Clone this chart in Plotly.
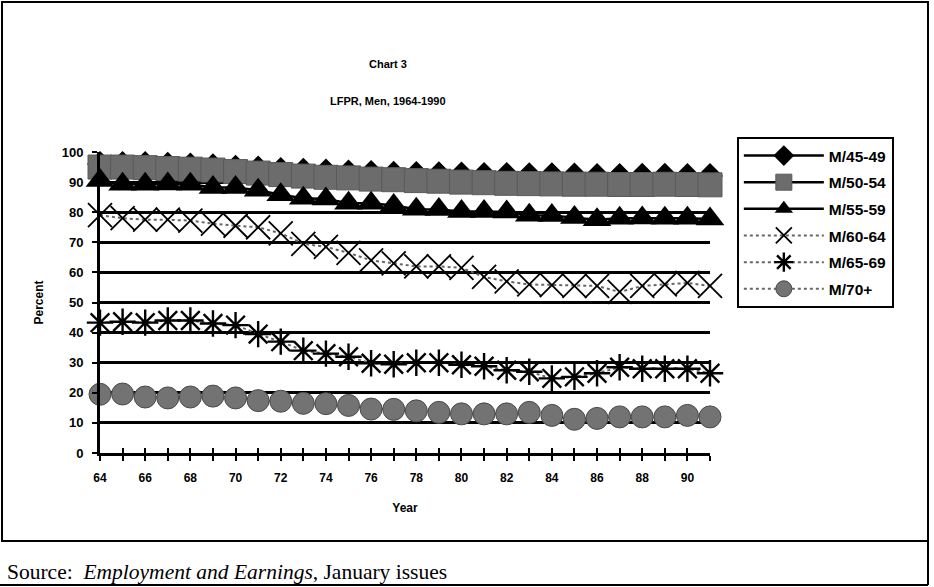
import plotly.graph_objects as go

# Survey years (19xx), one point per January issue
years = list(range(64, 92))

# Labour-force participation rate of men, percent, by age group
m45_49 = [96.0, 96.0, 96.0, 95.8, 95.5, 95.3, 94.8, 94.5, 94.0, 93.8, 93.5, 93.2, 93.0, 92.8,
          92.7, 92.6, 92.5, 92.4, 92.4, 92.3, 92.3, 92.2, 92.0, 92.0, 92.1, 92.1, 92.0, 92.0]
m50_54 = [95.0, 95.0, 94.8, 94.5, 94.3, 94.0, 93.5, 93.0, 92.5, 92.0, 91.6, 91.4, 91.0, 90.8,
          90.5, 90.3, 90.0, 89.8, 89.6, 89.5, 89.4, 89.3, 89.3, 89.2, 89.2, 89.3, 89.2, 89.1]
m55_59 = [90.5, 89.3, 89.3, 89.4, 89.3, 88.2, 88.2, 87.3, 85.8, 84.6, 84.4, 83.0, 83.0, 82.2,
          81.0, 80.9, 80.2, 80.2, 80.1, 79.0, 78.9, 78.2, 77.5, 78.0, 78.1, 78.0, 78.0, 77.7]
m60_64 = [79.0, 78.0, 77.5, 77.5, 77.2, 76.2, 75.5, 75.0, 73.0, 69.5, 68.5, 66.5, 64.0, 63.0,
          62.0, 62.0, 61.5, 58.5, 57.0, 56.0, 55.8, 55.5, 55.5, 53.5, 55.5, 56.0, 56.5, 55.5]
m65_69 = [43.3, 43.6, 43.3, 44.0, 44.0, 43.0, 42.5, 39.5, 37.0, 34.0, 33.0, 32.0, 29.8, 29.5,
          30.0, 30.0, 29.3, 28.8, 27.5, 27.0, 24.8, 25.3, 26.5, 28.5, 28.0, 28.0, 28.0, 26.5]
m70_up = [19.5, 19.6, 18.6, 18.3, 18.6, 18.9, 18.3, 17.4, 17.2, 16.5, 16.4, 15.8, 14.6, 14.5,
          14.0, 13.5, 13.0, 13.0, 13.0, 13.5, 12.5, 11.2, 11.5, 12.0, 12.0, 12.0, 12.5, 12.0]

series_names = ["M/45-49", "M/50-54", "M/55-59", "M/60-64", "M/65-69", "M/70+"]
series_values = [m45_49, m50_54, m55_59, m60_64, m65_69, m70_up]

y_ticks = list(range(0, 101, 10))
x_tick_text = [str(y) if y % 2 == 0 and y <= 90 else "" for y in years]

BOLD = "Liberation Sans"

styles = [
    dict(line=dict(color="black", width=2.5),
         marker=dict(symbol="diamond", size=20, color="black")),
    dict(line=dict(color="black", width=2.5),
         marker=dict(symbol="square", size=24, color="#6c6c6c",
                     line=dict(color="#5a5a5a", width=1))),
    dict(line=dict(color="black", width=2.5),
         marker=dict(symbol="triangle-up", size=25, color="black")),
    dict(line=dict(color="#666666", width=2, dash="dot"),
         marker=dict(symbol="x-thin", size=24, color="black",
                     line=dict(color="black", width=1.8))),
    dict(line=dict(color="#666666", width=2, dash="dot"),
         marker=dict(symbol="asterisk", size=22, color="black",
                     line=dict(color="black", width=2.4))),
    dict(line=dict(color="#666666", width=2, dash="dot"),
         marker=dict(symbol="circle", size=22, color="#737373",
                     line=dict(color="#4a4a4a", width=1))),
]

fig = go.Figure()
for i, (name, vals, st) in enumerate(zip(series_names, series_values, styles)):
    fig.add_trace(go.Scatter(
        x=years, y=vals, name=name, mode="lines+markers",
        line=st["line"], marker=st["marker"], cliponaxis=False,
        legendgroup=f"g{i}",
    ))

# companion axis that draws the upper half of the crossing x ticks
fig.add_trace(go.Scatter(x=[years[0]], y=[0], xaxis="x2", mode="markers",
                         marker=dict(opacity=0), showlegend=False, hoverinfo="skip"))

fig.update_layout(
    width=934, height=587,
    margin=dict(l=100, r=224, t=152, b=134),
    paper_bgcolor="white", plot_bgcolor="white",
    font=dict(family=BOLD, color="black", size=12),
    showlegend=True,
    legend=dict(
        x=1.044, y=1.05, xanchor="left", yanchor="top",
        bordercolor="black", borderwidth=2, bgcolor="white",
        font=dict(family=BOLD, size=15.5, weight="bold"),
        tracegroupgap=3.5, itemwidth=80,
    ),
    xaxis=dict(
        range=[64, 91], tickvals=years, ticktext=x_tick_text,
        ticks="outside", ticklen=5, tickwidth=2, tickcolor="black",
        showline=True, linewidth=3, linecolor="black",
        showgrid=False, zeroline=False, ticklabelstandoff=7,
        tickfont=dict(family=BOLD, size=12, weight="bold"),
        title=dict(text="Year", font=dict(family=BOLD, size=12, weight="bold"), standoff=20),
    ),
    xaxis2=dict(
        range=[64, 91], overlaying="x", anchor="y", side="bottom",
        tickvals=years, ticks="inside", ticklen=5, tickwidth=2, tickcolor="black",
        showticklabels=False, showgrid=False, zeroline=False, showline=False,
    ),
    yaxis=dict(
        range=[0, 100], tickvals=y_ticks,
        ticks="outside", ticklen=5, tickwidth=2, tickcolor="black",
        showline=True, linewidth=3, linecolor="black",
        showgrid=True, gridwidth=3, gridcolor="black", zeroline=False,
        ticklabelstandoff=6,
        tickfont=dict(family=BOLD, size=13, weight="bold"),
        title=dict(text="Percent", font=dict(family=BOLD, size=12, weight="bold"), standoff=16),
    ),
)

# two-line heading
fig.add_annotation(text="<b>Chart 3</b>", xref="paper", yref="paper",
                   x=0.472, y=1.318, showarrow=False,
                   font=dict(family=BOLD, size=11))
fig.add_annotation(text="<b>LFPR, Men, 1964-1990</b>", xref="paper", yref="paper",
                   x=0.472, y=1.197, showarrow=False,
                   font=dict(family=BOLD, size=11))

# source note
fig.add_annotation(text="Source:  <i>Employment and Earnings</i>, January issues",
                   xref="paper", yref="paper", x=-0.155, y=-0.395,
                   xanchor="left", yanchor="middle", showarrow=False,
                   font=dict(family="Liberation Serif", size=21.5, color="black"))

# page frame around the chart and the source line
def px_x(p):
    return (p - 100) / 610.0

def px_y(p):
    return (453 - p) / 301.0

frame = dict(xref="paper", yref="paper", line=dict(color="black", width=2))
fig.add_shape(type="rect", x0=px_x(2), x1=px_x(928), y0=px_y(541), y1=px_y(2), **frame)
fig.add_shape(type="line", x0=px_x(928), x1=px_x(928), y0=px_y(585), y1=px_y(541), **frame)
fig.add_shape(type="line", x0=px_x(0), x1=px_x(928), y0=px_y(585), y1=px_y(585), **frame)

fig.write_html("out.html")
